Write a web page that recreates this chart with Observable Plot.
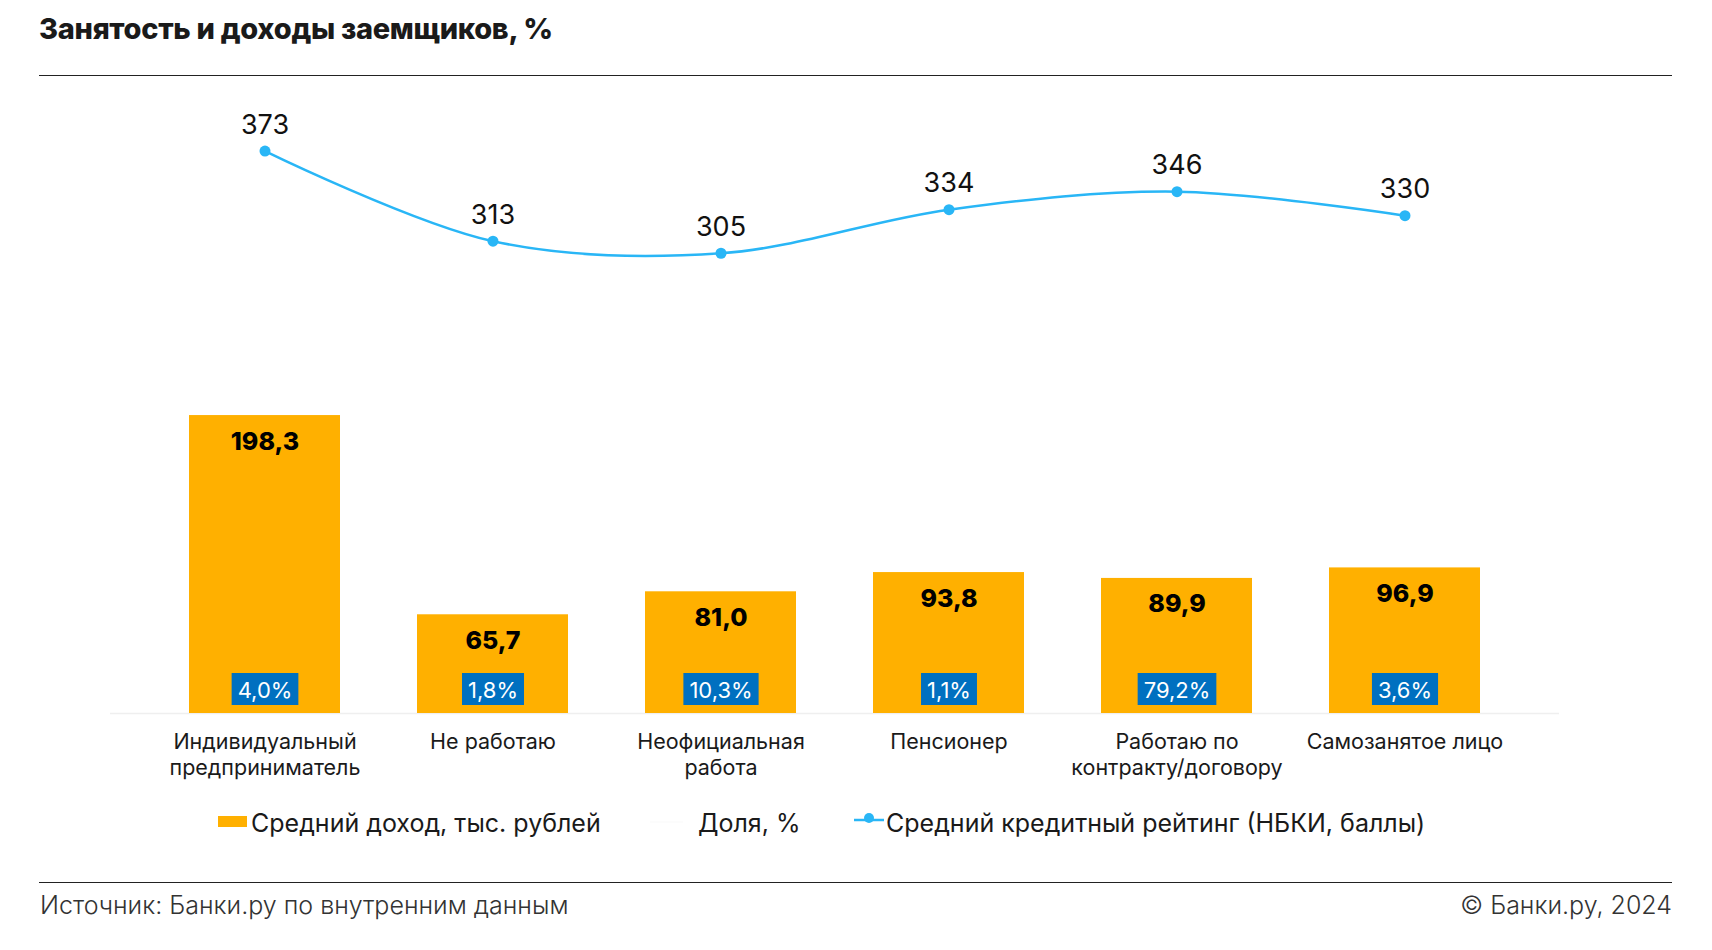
<!DOCTYPE html>
<html><head><meta charset="utf-8">
<script src="https://cdn.jsdelivr.net/npm/d3@7"></script>
<script src="https://cdn.jsdelivr.net/npm/@observablehq/plot@0.6"></script>
<style>
body{margin:0;background:#fff;font-family:Inter, "Noto Sans", sans-serif;color:#1a1a1a;}
#wrap{position:relative;width:1712px;height:950px;overflow:hidden;}
#title{position:absolute;left:39px;top:11px;font-size:29px;font-weight:800;letter-spacing:-0.3px;color:#1a1a1a;}
.rule{position:absolute;left:39px;width:1633px;height:0;border-top:1.5px solid #222;}
#chart{position:absolute;left:0;top:80px;}
.leg{position:absolute;top:805px;font-size:25px;line-height:36px;color:#1a1a1a;white-space:nowrap;}
.foot{position:absolute;top:890px;font-size:25px;font-weight:300;color:#333;white-space:nowrap;}
</style></head><body>
<div id="wrap">
  <div id="title">Занятость и доходы заемщиков, %</div>
  <div class="rule" style="top:75px"></div>
  <div id="chart"></div>
  <div class="leg" style="left:218px;"><span style="display:inline-block;width:29px;height:11px;background:#FFB000;vertical-align:5px;margin-right:4px"></span>Средний доход, тыс. рублей</div>
  <div class="leg" style="left:650px;"><span style="display:inline-block;width:33px;height:2px;background:#fcfcfc;vertical-align:9px;margin-right:15px"></span>Доля, %</div>
  <div class="leg" style="left:854px;"><svg width="30" height="14" style="vertical-align:5px;margin-right:2px"><line x1="0" y1="7" x2="30" y2="7" stroke="#29B6F6" stroke-width="2.5"/><circle cx="15" cy="5" r="5" fill="#29B6F6"/></svg>Средний кредитный рейтинг (НБКИ, баллы)</div>
  <div class="rule" style="top:882px"></div>
  <div class="foot" style="left:40px;">Источник: Банки.ру по внутренним данным</div>
  <div class="foot" style="right:40px;">© Банки.ру, 2024</div>
</div>
<script>
const categories = ["Индивидуальный\nпредприниматель", "Не работаю", "Неофициальная\nработа", "Пенсионер", "Работаю по\nконтракту/договору", "Самозанятое лицо"];
const income = [198.3, 65.7, 81.0, 93.8, 89.9, 96.9];
const share = [4.0, 1.8, 10.3, 1.1, 79.2, 3.6];
const rating = [373, 313, 305, 334, 346, 330];

const data = categories.map((c, i) => ({c, income: income[i], share: share[i], rating: rating[i]}));
const fmt = v => v.toFixed(1).replace(".", ",");

const plot = Plot.plot({
  width: 1712, height: 710,
  marginTop: 32, marginBottom: 77, marginLeft: 110, marginRight: 153,
  x: {domain: categories, padding: 0.336},
  y: {domain: [0, 400], axis: null},
  style: {fontFamily: "Inter, 'Noto Sans', sans-serif", background: "transparent", overflow: "visible"},
  marks: [
    Plot.ruleY([0], {stroke: "#efefef", strokeWidth: 1.5}),
    Plot.barY(data, {x: "c", y: "income", fill: "#FFB000"}),
    Plot.axisX({tickSize: 0, tickPadding: 17, fontSize: 21.5, lineHeight: 1.22, fill: "#1a1a1a", label: null}),
    Plot.line(data, {x: "c", y: "rating", dy: -2, stroke: "#29B6F6", strokeWidth: 2.5, curve: "catmull-rom"}),
    Plot.dot(data, {x: "c", y: "rating", dy: -2, fill: "#29B6F6", r: 5.5}),
    Plot.text(data, {x: "c", y: "rating", text: d => String(d.rating), dy: -28, fontSize: 27, fill: "#111"}),
    Plot.text(data, {x: "c", y: "income", text: d => fmt(d.income), dy: 26, fontSize: 25, fontWeight: 800, fill: "#000"}),
    Plot.text(data, {x: "c", y: 0, text: d => fmt(d.share) + "%", dy: -23, fontSize: 22, fill: "white"})
  ]
});
document.getElementById("chart").append(plot);

// blue label boxes behind share labels
const groups = plot.querySelectorAll('g[aria-label="text"]');
const shareGroup = groups[groups.length - 1];
const yc = plot.scale("y").apply(0) - 24;
const ns = "http://www.w3.org/2000/svg";
const bg = document.createElementNS(ns, "g");
const svgBox = plot.getBoundingClientRect();
shareGroup.querySelectorAll("text").forEach(t => {
  const b = t.getBoundingClientRect();
  const r = document.createElementNS(ns, "rect");
  r.setAttribute("x", b.left - svgBox.left - 6);
  r.setAttribute("width", b.width + 12);
  r.setAttribute("y", yc - 16);
  r.setAttribute("height", 32);
  r.setAttribute("fill", "#0070C0");
  bg.appendChild(r);
});
shareGroup.parentNode.insertBefore(bg, shareGroup);
</script>
</body></html>
